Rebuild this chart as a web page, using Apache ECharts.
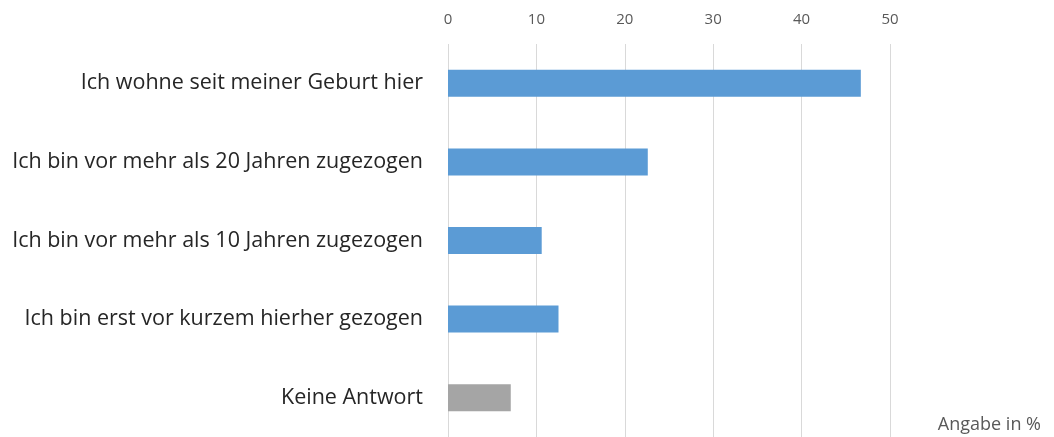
<!DOCTYPE html>
<html>
<head>
<meta charset="utf-8">
<script src="https://cdn.jsdelivr.net/npm/echarts@6/dist/echarts.min.js"></script>
<style>
  html, body { margin: 0; padding: 0; background: #fff; }
  #main { width: 1054px; height: 437px; }
</style>
</head>
<body>
<div id="main"></div>
<script>
const categories = [
  "Ich wohne seit meiner Geburt hier",
  "Ich bin vor mehr als 20 Jahren zugezogen",
  "Ich bin vor mehr als 10 Jahren zugezogen",
  "Ich bin erst vor kurzem hierher gezogen",
  "Keine Antwort"
];
const values = [46.7, 22.6, 10.6, 12.5, 7.1];
const xTicks = [0, 10, 20, 30, 40, 50];

const blue = "#5B9BD5";
const grey = "#A5A5A5";
const font = "'Open Sans', 'Noto Sans', sans-serif";

var myChart = echarts.init(document.getElementById("main"));
myChart.setOption({
  animation: false,
  grid: { left: 448, right: 164, top: 44, bottom: 0 },
  xAxis: {
    type: "value",
    position: "top",
    min: xTicks[0],
    max: xTicks[xTicks.length - 1],
    interval: xTicks[1] - xTicks[0],
    axisLine: { show: false },
    axisTick: { show: false },
    axisLabel: { color: "#595959", fontSize: 15, fontFamily: font, margin: 17 },
    splitLine: { lineStyle: { color: "#d9d9d9", width: 1 } }
  },
  yAxis: {
    type: "category",
    inverse: true,
    data: categories,
    axisLine: { show: false },
    axisTick: { show: false },
    axisLabel: { color: "#262626", fontSize: 21.5, fontFamily: font, margin: 25 }
  },
  series: [{
    type: "bar",
    barWidth: 27,
    data: values.map((v, i) => ({
      value: v,
      itemStyle: { color: i === values.length - 1 ? grey : blue }
    }))
  }],
  graphic: [{
    type: "text",
    right: 13,
    bottom: 3,
    style: { text: "Angabe in %", fill: "#595959", font: "18px " + font }
  }]
});
window.onresize = function() {
  myChart.resize();
};
</script>
</body>
</html>
